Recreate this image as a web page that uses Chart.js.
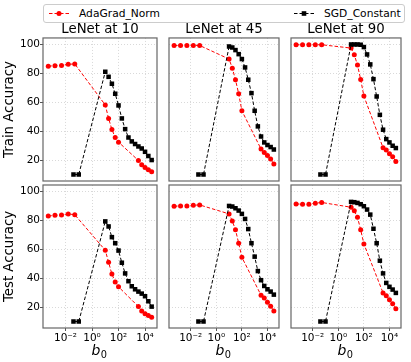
<!DOCTYPE html>
<html lang="en">
<head>
<meta charset="UTF-8">
<title>LeNet b0 sweep</title>
<script src="https://cdn.jsdelivr.net/npm/chart.js"></script>
<style>
  body { margin: 0; width: 411px; height: 362px; position: relative; overflow: hidden; background: #fff; font-family: "DejaVu Sans", sans-serif; }
  .cell { position: absolute; }
  #legend { position: absolute; left: 43px; top: 4px; width: 360px; height: 17px; border: 1px solid #ccc; border-radius: 3px; background: rgba(255,255,255,0.8); font-size: 10.7px; color: #000; }
  #legend .item { position: absolute; top: 0; height: 17px; line-height: 17px; white-space: nowrap; }
  #legend svg { position: absolute; top: 3px; }
  #legend span { position: absolute; left: 31px; }
</style>
</head>
<body>
<div id="legend">
  <div class="item" style="left:4px">
    <svg width="22" height="11"><line x1="1" y1="5.5" x2="21" y2="5.5" stroke="#f00" stroke-width="1" stroke-dasharray="3.5,2"/><circle cx="11" cy="5.5" r="2.5" fill="#f00"/></svg>
    <span id="lg0"></span>
  </div>
  <div class="item" style="left:249px">
    <svg width="22" height="11"><line x1="1" y1="5.5" x2="21" y2="5.5" stroke="#000" stroke-width="1" stroke-dasharray="3.5,2"/><rect x="8.7" y="3.2" width="4.6" height="4.6" fill="#000"/></svg>
    <span id="lg1"></span>
  </div>
</div>
<script>
  // panel titles, row labels, series names
  const panelTitles = ['LeNet at 10', 'LeNet at 45', 'LeNet at 90'];
  const rowLabels = ['Train Accuracy', 'Test Accuracy'];
  const seriesNames = ['AdaGrad_Norm', 'SGD_Constant'];

  // b0 values (x axis, log scale)
  const adaB0 = [5e-4, 1.6e-3, 5e-3, 1.6e-2, 5e-2, 10, 17.8, 31.6, 56.2, 100, 3162, 5623, 10000, 17783, 31623];
  const sgdB0 = [0.04, 0.1, 10, 17.8, 31.6, 56.2, 100, 178, 316, 562, 1000, 1778, 3162, 5623, 10000, 17783, 31623];

  // train accuracy
  const adaTrain10 = [85, 85.3, 85.5, 86.3, 86.5, 58.1, 48.8, 41.2, 35.6, 32.4, 19.7, 16.7, 14.9, 13.3, 11.9];
  const sgdTrain10 = [10, 10, 81.1, 77.6, 72.8, 65.9, 57.8, 48.8, 41.4, 35.6, 32.9, 31.1, 29.4, 28, 25.7, 22.8, 20];
  const adaTrain45 = [99.3, 99.3, 99.3, 99.3, 99.3, 89.9, 83.6, 75.6, 65.9, 54.1, 27.6, 25.3, 23.2, 20.7, 17.2];
  const sgdTrain45 = [10, 10, 98.6, 97.9, 96.1, 93.3, 89.9, 84.1, 75.6, 66.3, 54.1, 43.3, 36.3, 32.2, 30.4, 29, 27.3];
  const adaTrain90 = [99.8, 99.8, 99.8, 99.8, 99.8, 97.5, 92.9, 85.7, 75.8, 64.3, 28.5, 26.9, 24.4, 22.3, 19];
  const sgdTrain90 = [10, 10, 100, 100, 100, 99.8, 98.2, 93.1, 86.2, 76, 64, 51.3, 41, 34.5, 32.2, 29.9, 28.3];

  // test accuracy
  const adaTest10 = [83, 83.5, 83.8, 84.5, 83.9, 59.3, 51, 42.8, 37.4, 34, 20.3, 17.2, 15.4, 14.2, 13];
  const sgdTest10 = [10, 10, 79.3, 75.8, 68.4, 64.2, 59.1, 50.7, 43.3, 37.9, 34.4, 32.3, 30.7, 29.3, 27.5, 24, 20.3];
  const adaTest45 = [89.8, 90, 90, 90.5, 90.7, 84.5, 79.6, 73.5, 64.2, 54.4, 28.2, 26.3, 23.3, 20.5, 17.2];
  const sgdTest45 = [10, 10, 90, 89.6, 88.4, 86.8, 84.5, 81, 74, 64.2, 54.9, 44.9, 38.6, 34.6, 32.3, 30.7, 28.6];
  const adaTest90 = [91.4, 91.2, 91.2, 91.9, 92.4, 89.1, 86.6, 82.1, 73.5, 63.7, 29.8, 27.9, 25.1, 22.3, 18.9];
  const sgdTest90 = [10, 10, 92.8, 92.6, 92.1, 91.2, 89.8, 87.5, 84, 74.2, 64.2, 52.1, 43.3, 36.7, 34, 32.1, 29.8];

  // ticks
  const xTicks = [1e-2, 1, 1e2, 1e4];
  const xTickLabels = ['10\u207B\u00B2', '10\u2070', '10\u00B2', '10\u2074'];
  const yTicks = [20, 40, 60, 80, 100];

  const ada = [[adaTrain10, adaTrain45, adaTrain90], [adaTest10, adaTest45, adaTest90]];
  const sgd = [[sgdTrain10, sgdTrain45, sgdTrain90], [sgdTest10, sgdTest45, sgdTest90]];

  document.getElementById('lg0').textContent = seriesNames[0];
  document.getElementById('lg1').textContent = seriesNames[1];

  const FONT = 'DejaVu Sans';
  const tickFont = { family: FONT, size: 10.5 };
  const labelFont = { family: FONT, size: 13.3 };

  // box around each plot area
  const frame = {
    id: 'frame',
    afterDraw(chart) {
      const a = chart.chartArea, ctx = chart.ctx;
      ctx.save();
      ctx.strokeStyle = '#666';
      ctx.lineWidth = 1.2;
      ctx.strokeRect(a.left, a.top, a.right - a.left, a.bottom - a.top);
      ctx.restore();
    }
  };

  // x label "b0" with italic b and upright subscript 0
  const xLabel = {
    id: 'xLabel',
    afterDraw(chart, args, opts) {
      if (!opts.show) return;
      const a = chart.chartArea, ctx = chart.ctx;
      ctx.save();
      ctx.fillStyle = '#000';
      ctx.textBaseline = 'alphabetic';
      ctx.font = 'italic 14px "DejaVu Sans"';
      const wb = ctx.measureText('b').width;
      ctx.font = '9.8px "DejaVu Sans"';
      const w0 = ctx.measureText('0').width;
      const x0 = (a.left + a.right) / 2 - (wb + w0) / 2 - 1;
      const base = a.bottom + 27;
      ctx.font = 'italic 14px "DejaVu Sans"';
      ctx.fillText('b', x0, base);
      ctx.font = '9.8px "DejaVu Sans"';
      ctx.fillText('0', x0 + wb + 0.5, base + 2.5);
      ctx.restore();
    }
  };

  const colLeft = [0, 165, 287];
  const colWidth = [161, 118, 118];
  const rowTop = [0, 175];
  const rowHeight = [191, 187];

  for (let r = 0; r < 2; r++) {
    for (let c = 0; c < 3; c++) {
      const div = document.createElement('div');
      div.className = 'cell';
      div.style.left = colLeft[c] + 'px';
      div.style.top = rowTop[r] + 'px';
      div.style.width = colWidth[c] + 'px';
      div.style.height = rowHeight[r] + 'px';
      const canvas = document.createElement('canvas');
      div.appendChild(canvas);
      document.body.appendChild(div);

      const showY = c === 0;
      const showX = r === 1;

      new Chart(canvas.getContext('2d'), {
        type: 'line',
        data: {
          datasets: [{
            label: seriesNames[0],
            data: adaB0.map((x, i) => ({ x: x, y: ada[r][c][i] })),
            borderColor: '#ff0000',
            backgroundColor: '#ff0000',
            borderWidth: 1,
            borderDash: [3.5, 2],
            pointStyle: 'circle',
            pointRadius: 2.5,
            pointBorderWidth: 0,
            tension: 0,
            order: 2
          }, {
            label: seriesNames[1],
            data: sgdB0.map((x, i) => ({ x: x, y: sgd[r][c][i] })),
            borderColor: '#000000',
            backgroundColor: '#000000',
            borderWidth: 1,
            borderDash: [3.5, 2],
            pointStyle: 'rect',
            pointRadius: 3.2,
            pointBorderWidth: 0,
            tension: 0,
            order: 1
          }]
        },
        options: {
          responsive: true,
          maintainAspectRatio: false,
          animation: false,
          events: [],
          layout: { padding: { top: r === 1 ? 10 : 0, bottom: r === 0 ? 10 : 0, left: 0, right: 0 } },
          plugins: {
            legend: { display: false },
            tooltip: { enabled: false },
            xLabel: { show: showX },
            title: {
              display: r === 0,
              text: panelTitles[c],
              fullSize: false,
              color: '#000',
              font: { family: FONT, size: 13.3, weight: 'normal' },
              padding: { top: 22, bottom: 0 }
            }
          },
          scales: {
            x: {
              type: 'logarithmic',
              min: 2e-4,
              max: 8e4,
              afterBuildTicks: s => { s.ticks = xTicks.map(v => ({ value: v })); },
              afterFit: s => { s.height = showX ? 34 : 0; },
              ticks: {
                display: showX,
                autoSkip: false,
                maxRotation: 0,
                padding: 1,
                color: '#000',
                font: tickFont,
                callback: (v, i) => xTickLabels[i]
              },
              grid: { color: '#cfcfcf', lineWidth: 0.8, drawTicks: showX, tickLength: 3, tickColor: '#555', tickWidth: 1 },
              border: { display: false, dash: [1, 2] }
            },
            y: {
              min: 5.5,
              max: 104.5,
              afterBuildTicks: s => { s.ticks = yTicks.map(v => ({ value: v })); },
              afterFit: s => { s.width = showY ? 43 : 0; },
              ticks: { display: showY, padding: 0, color: '#000', font: tickFont },
              grid: { color: '#cfcfcf', lineWidth: 0.8, drawTicks: showY, tickLength: 3, tickColor: '#555', tickWidth: 1 },
              border: { display: false, dash: [1, 2] },
              title: {
                display: showY,
                text: rowLabels[r],
                color: '#000',
                font: labelFont,
                padding: { top: 2, bottom: 0 }
              }
            }
          }
        },
        plugins: [frame, xLabel]
      });
    }
  }
</script>
</body>
</html>
